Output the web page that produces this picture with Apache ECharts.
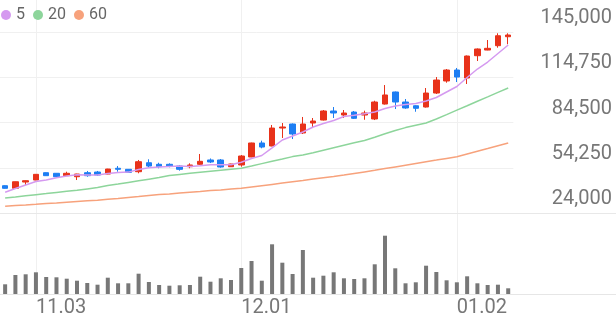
<!DOCTYPE html>
<html><head><meta charset="utf-8">
<script src="https://cdn.jsdelivr.net/npm/echarts@6/dist/echarts.min.js"></script>
<style>html,body{margin:0;padding:0;background:#fff}#c{width:616px;height:321px}</style>
</head><body><div id="c"></div>
<script>
const dates = ['10.29','10.30','10.31',
 '11.03','11.04','11.05','11.06','11.07',
 '11.10','11.11','11.12','11.13','11.14',
 '11.17','11.18','11.19','11.20','11.21',
 '11.24','11.25','11.26','11.27','11.28',
 '12.01','12.02','12.03','12.04','12.05',
 '12.08','12.09','12.10','12.11','12.12',
 '12.15','12.16','12.17','12.18','12.19',
 '12.22','12.23','12.24','12.26',
 '12.29','12.30',
 '01.02',
 '01.05','01.06','01.07','01.08','01.09'];

const opens = [42250,40500,44700,46050,50950,50550,48950,48250,50950,51400,
 50050,53900,53200,51600,57600,56550,56550,55400,54950,56550,
 59450,59450,54950,56100,61450,70800,68800,80800,83500,77500,
 84150,86150,92200,89500,91500,89500,86850,96850,104900,98200,
 95700,94850,104200,112250,119600,114250,129150,132950,135850,141850];
const closes = [40500,44900,45600,49850,48950,48250,50550,50050,48950,49400,
 53400,53200,51200,58300,55400,54950,55400,53200,56100,58550,
 58100,54750,56750,62100,70800,68100,80800,81500,76800,83500,
 85500,92200,90850,90850,87300,90850,98200,102900,98200,94200,
 94000,104200,112900,119600,114900,128950,133650,134100,142500,143000];
const lows = [40300,40300,42700,45900,48800,48100,48800,46050,48250,48750,
 49900,51600,51050,50550,54550,53900,54550,52300,53900,56100,
 57400,54300,54800,54950,61300,67250,68600,74150,73450,76800,
 80800,85850,87500,87500,86850,86350,86150,96500,93500,93700,
 91700,94500,103550,111100,111550,110250,125600,132800,134500,136800];
const highs = [42500,45000,45800,50000,51100,50700,51600,50200,52100,52100,
 53550,55400,53350,59450,59900,57600,57200,56100,57200,63450,
 60450,60100,56900,62750,71000,72350,82850,84150,83850,88200,
 87500,92850,94850,92850,92200,92400,99050,109550,105200,100200,
 96000,107550,114900,120250,120950,129300,134000,139650,144150,144150];
const volumes = [194,380,394,434,340,334,306,266,220,186,
 326,214,214,406,240,180,166,174,180,346,
 246,314,280,520,660,266,994,626,400,880,
 326,366,434,314,300,314,594,1166,514,214,
 234,566,440,274,234,354,214,180,186,114];
const ma5 = [37840,40380,42720,45060,46060,47600,48670,49540,49400,49470,
 50470,51010,51340,53080,54280,54750,55090,55420,55090,55620,
 56220,56290,56290,57890,60430,62440,67590,72800,75470,78150,
 81490,83830,85840,88510,89310,90380,91520,93860,95530,96530,
 97200,98870,101210,104890,108570,114580,120260,124940,130630,136310];
const ma20 = [34030,34760,35500,36230,36970,37770,38510,39240,40110,40980,
 42380,43390,44460,45530,46600,47670,49000,49800,50540,51210,
 51880,52550,53210,53880,55420,57020,58560,60100,61700,62710,
 64310,65980,67650,69320,70930,72530,74670,76950,79150,81090,
 82630,84170,86840,89780,92790,95730,98740,101610,104620,107560];
const ma60 = [28550,29010,29420,29880,30350,30750,31220,31690,32160,32560,
 33160,33760,34430,35030,35700,36300,36770,37300,37840,38370,
 38970,39440,39980,40510,41380,42250,43120,43990,44860,45730,
 46660,47530,48400,49340,50410,51480,52550,53680,54820,55950,
 57090,58230,59360,60500,61640,63510,65310,67120,68990,70800];
const maNames = ['5','20','60'];
const yTicks = [24000, 54250, 84500, 114750, 145000];

const Y_MIN = 24000, Y_MAX = 166400, VOL_MAX = 1620;
const EMPTY_SLOTS = 10;
const cats = dates.concat(Array(EMPTY_SLOTS).fill(''));
const isMonthStart = i => i > 0 && i < dates.length && dates[i].slice(0,2) !== dates[i-1].slice(0,2);

const red = '#e8321a', blue = '#1d7ef3';
const maColors = ['#d59af0', '#8dd59b', '#f7a27c'];
const split = { show: true, interval: (i) => isMonthStart(i), alignWithLabel: true, lineStyle: { color: '#f0f0f0', width: 1 } };

const chart = echarts.init(document.getElementById('c'), null, { renderer: 'canvas' });
chart.setOption({
  animation: false,
  backgroundColor: '#fff',
  textStyle: { fontFamily: 'Roboto' },
  legend: {
    data: maNames, left: 1, top: 7, padding: 0, icon: 'circle', itemWidth: 10, itemHeight: 10, itemGap: 8,
    selectedMode: false,
    textStyle: { fontSize: 16, color: '#666', fontFamily: 'Roboto', padding: [0, 0, 0, 0] }
  },
  grid: [
    { left: 0, top: 0, width: 616, height: 213 },
    { left: 0, top: 213, width: 616, height: 81 },
    { left: 0, top: 32, width: 616 * dates.length / cats.length, height: 181 }
  ],
  xAxis: [
    { type: 'category', gridIndex: 0, data: cats, boundaryGap: true,
      axisLine: { show: true, lineStyle: { color: '#e8e8e8' } }, axisTick: { show: false },
      axisLabel: { show: false }, splitLine: split },
    { type: 'category', gridIndex: 1, data: cats, boundaryGap: true,
      axisLine: { show: true, lineStyle: { color: '#e6e6e6' } }, axisTick: { show: false },
      axisLabel: { interval: (i) => isMonthStart(i), align: 'left', margin: 4, fontSize: 20, color: '#777', fontFamily: 'Roboto' },
      splitLine: split },
    { type: 'category', gridIndex: 2, data: dates, show: false }
  ],
  yAxis: [
    { type: 'value', gridIndex: 0, min: Y_MIN, max: Y_MAX, position: 'right',
      axisLine: { show: false }, axisTick: { show: false }, splitLine: { show: false },
      axisLabel: { inside: true, customValues: yTicks, formatter: v => v.toLocaleString('en-US'),
        align: 'right', verticalAlign: 'bottom', padding: [0, 0, 4, 0], margin: 4,
        fontSize: 20, color: '#777', fontFamily: 'Roboto' } },
    { type: 'value', gridIndex: 1, min: 0, max: VOL_MAX, show: false },
    { type: 'value', gridIndex: 2, min: 0, max: yTicks.length - 1, interval: 1,
      axisLine: { show: false }, axisTick: { show: false }, axisLabel: { show: false },
      splitLine: { show: true, lineStyle: { color: '#f0f0f0' } } }
  ],
  series: [
    { name: 'price', type: 'candlestick', xAxisIndex: 0, yAxisIndex: 0, barWidth: 6,
      data: opens.map((o, i) => [o, closes[i], lows[i], highs[i]]),
      itemStyle: { color: red, color0: blue, borderColor: red, borderColor0: blue, borderWidth: 1 } },
    ...[ma5, ma20, ma60].map((d, j) => ({
      name: maNames[j], type: 'line', xAxisIndex: 0, yAxisIndex: 0, data: d, symbol: 'none',
      lineStyle: { color: maColors[j], width: 1.5 }, itemStyle: { color: maColors[j] }
    })),
    { name: 'volume', type: 'bar', xAxisIndex: 1, yAxisIndex: 1, data: volumes, barWidth: 4,
      itemStyle: { color: '#777' } }
  ]
});
</script>
</body></html>
